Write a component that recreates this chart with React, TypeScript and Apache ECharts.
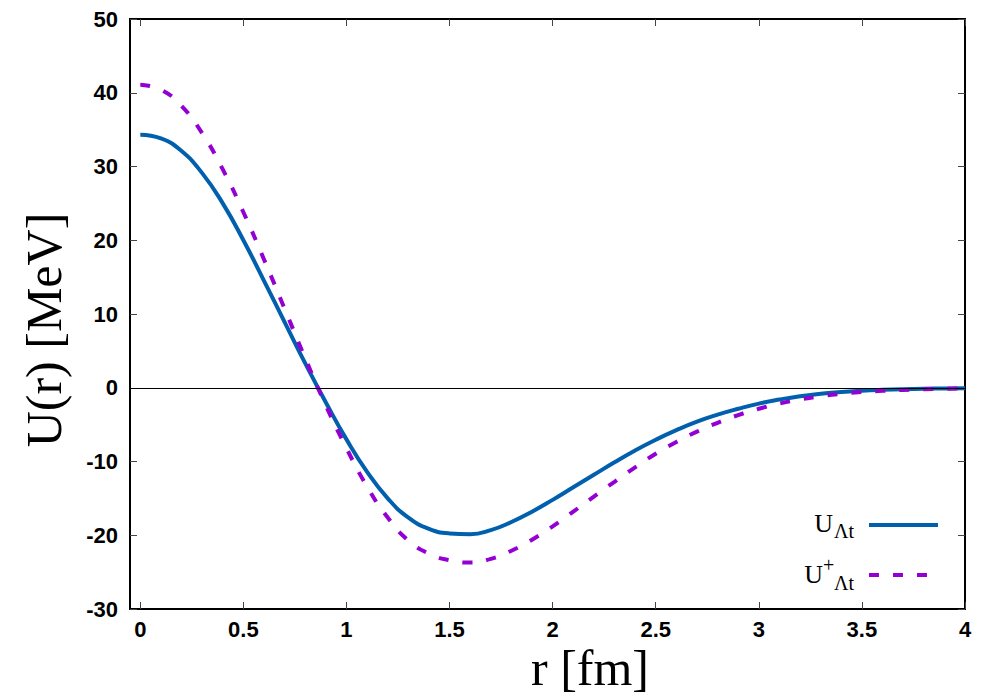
import React, { useEffect, useRef } from "react";
import * as echarts from "echarts";

const rValues = [
  0, 0.1, 0.2, 0.3, 0.4, 0.5, 0.6, 0.7, 0.8, 0.9, 1.0, 1.1, 1.2, 1.3, 1.4, 1.5, 1.6, 1.7, 1.8, 1.9, 2.0,
  2.1, 2.2, 2.3, 2.4, 2.5, 2.6, 2.7, 2.8, 2.9, 3.0, 3.1, 3.2, 3.3, 3.4, 3.5, 3.6, 3.7, 3.8, 3.9, 4.0,
];
const uLambdaT = [
  34.3, 33.8, 32.1, 29.1, 25.0, 20.0, 14.5, 8.9, 3.3, -2.0, -7.0, -11.4, -15.0, -17.6, -19.15, -19.75, -19.85,
  -19.3, -18.2, -16.8, -15.2, -13.5, -11.8, -10.1, -8.5, -7.05, -5.75, -4.6, -3.65, -2.85, -2.15, -1.6, -1.15,
  -0.82, -0.57, -0.4, -0.28, -0.19, -0.13, -0.09, -0.06,
];
const uPlusLambdaT = [
  41.1, 40.4, 38.2, 34.5, 29.6, 23.8, 17.4, 10.7, 4.0, -2.4, -8.2, -13.4, -17.6, -20.7, -22.5, -23.4, -23.7,
  -23.2, -22.1, -20.6, -18.8, -16.8, -14.75, -12.75, -10.8, -8.95, -7.35, -5.95, -4.75, -3.7, -2.85, -2.15,
  -1.6, -1.15, -0.82, -0.58, -0.41, -0.29, -0.2, -0.13, -0.08,
];
const xTicks = [0, 0.5, 1, 1.5, 2, 2.5, 3, 3.5, 4];

const BLUE = "#0060ad";
const PURPLE = "#9400d3";
const SERIF = "'Liberation Serif', 'DejaVu Serif', serif";
const SANS = "'Liberation Sans', Arial, sans-serif";

export default function App() {
  const ref = useRef<HTMLDivElement>(null);
  useEffect(() => {
    if (!ref.current) return;
    const chart = echarts.init(ref.current, null, { renderer: "svg" });
    const tickStyle = { show: true, inside: true, length: 7, lineStyle: { color: "#444", width: 1 } };
    const labelStyle = { fontFamily: SANS, fontWeight: "bold" as const, fontSize: 22, color: "#000" };
    const hiddenLine = { show: false, onZero: false };
    chart.setOption({
      animation: false,
      backgroundColor: "#fff",
      grid: {
        left: 130,
        right: 35,
        top: 19,
        bottom: 91,
        show: true,
        borderColor: "#000",
        borderWidth: 2,
        backgroundColor: "transparent",
      },
      xAxis: [
        {
          type: "value",
          min: -0.05,
          max: 4,
          axisLine: hiddenLine,
          splitLine: { show: false },
          axisTick: { ...tickStyle, customValues: xTicks },
          axisLabel: { ...labelStyle, margin: 9, customValues: xTicks },
        },
        {
          type: "value",
          position: "top",
          min: -0.05,
          max: 4,
          axisLine: hiddenLine,
          splitLine: { show: false },
          axisTick: { ...tickStyle, customValues: xTicks },
          axisLabel: { show: false, customValues: xTicks },
        },
      ],
      yAxis: [
        {
          type: "value",
          min: -30,
          max: 50,
          interval: 10,
          axisLine: hiddenLine,
          splitLine: { show: false },
          axisTick: tickStyle,
          axisLabel: { ...labelStyle, margin: 12 },
        },
        {
          type: "value",
          position: "right",
          min: -30,
          max: 50,
          interval: 10,
          axisLine: hiddenLine,
          splitLine: { show: false },
          axisTick: tickStyle,
          axisLabel: { show: false },
        },
      ],
      series: [
        {
          type: "line",
          name: "U_Λt",
          data: rValues.map((r, i) => [r, uLambdaT[i]]),
          smooth: true,
          showSymbol: false,
          symbol: "none",
          lineStyle: { color: BLUE, width: 4 },
          markLine: {
            silent: true,
            symbol: "none",
            label: { show: false },
            lineStyle: { color: "#000", width: 1, type: "solid" },
            data: [{ yAxis: 0 }],
          },
          z: 2,
        },
        {
          type: "line",
          name: "U+_Λt",
          data: rValues.map((r, i) => [r, uPlusLambdaT[i]]),
          smooth: true,
          showSymbol: false,
          symbol: "none",
          lineStyle: { color: PURPLE, width: 4, type: [10, 14], cap: "butt" },
          z: 3,
        },
      ],
      graphic: [
        {
          type: "text",
          x: 590,
          y: 668,
          style: { text: "r [fm]", font: `50px ${SERIF}`, fill: "#000", align: "center", verticalAlign: "middle" },
        },
        {
          type: "text",
          x: 44,
          y: 330,
          rotation: Math.PI / 2,
          style: { text: "U(r) [MeV]", font: `50px ${SERIF}`, fill: "#000", align: "center", verticalAlign: "middle" },
        },
        {
          type: "text",
          x: 833,
          y: 523,
          style: { text: "U", font: `26px ${SERIF}`, fill: "#000", align: "right", verticalAlign: "middle" },
        },
        {
          type: "text",
          x: 834,
          y: 531,
          style: { text: "Λt", font: `20px ${SERIF}`, fill: "#000", align: "left", verticalAlign: "middle" },
        },
        {
          type: "line",
          shape: { x1: 869, y1: 525, x2: 938, y2: 525 },
          style: { stroke: BLUE, lineWidth: 4 },
        },
        {
          type: "text",
          x: 823,
          y: 574,
          style: { text: "U", font: `26px ${SERIF}`, fill: "#000", align: "right", verticalAlign: "middle" },
        },
        {
          type: "text",
          x: 823,
          y: 565,
          style: { text: "+", font: `20px ${SERIF}`, fill: "#000", align: "left", verticalAlign: "middle" },
        },
        {
          type: "text",
          x: 834,
          y: 583,
          style: { text: "Λt", font: `20px ${SERIF}`, fill: "#000", align: "left", verticalAlign: "middle" },
        },
        {
          type: "line",
          shape: { x1: 869, y1: 575, x2: 928, y2: 575 },
          style: { stroke: PURPLE, lineWidth: 4, lineDash: [10, 14], lineCap: "butt" },
        },
      ],
    });
    return () => chart.dispose();
  }, []);
  return <div ref={ref} style={{ width: 1000, height: 700, position: "absolute", left: 0, top: 0 }} />;
}
